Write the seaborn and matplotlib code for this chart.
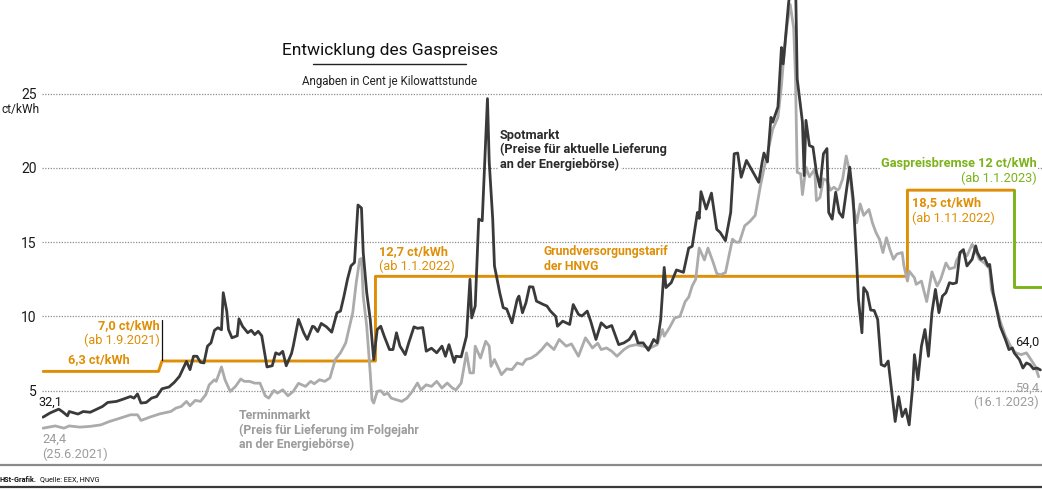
import numpy as np
import pandas as pd
import matplotlib
matplotlib.use("Agg")
import matplotlib.pyplot as plt
from matplotlib.lines import Line2D
import seaborn as sns

# ---------------- data (ct/kWh, x = days since 25.6.2021) ----------------
START = pd.Timestamp("2021-06-25")

spot_days = [0, 4, 9, 11, 14, 15, 20, 23, 27, 30, 34, 37, 42, 46, 50, 52, 54, 56, 59, 62,
             65, 68, 72, 75, 78, 82, 84, 86, 88, 90, 92, 94, 96, 98, 100, 102, 103, 105, 106, 108,
             111, 112, 114, 117, 119, 121, 123, 125, 128, 131, 133, 135, 137, 139, 142, 143, 146, 149, 151, 154,
             155, 157, 159, 162, 165, 168, 170, 172, 174, 176, 178, 180, 182, 183, 185, 187, 189, 191, 193, 195,
             198, 200, 202, 204, 207, 209, 212, 214, 217, 219, 222, 225, 228, 230, 232, 235, 236, 239, 242, 244,
             245, 247, 249, 251, 254, 255, 257, 258, 261, 263, 265, 268, 271, 272, 274, 276, 278, 280, 282, 286,
             288, 290, 293, 294, 297, 301, 303, 306, 308, 311, 313, 316, 319, 322, 325, 329, 332, 335, 338, 340,
             343, 346, 349, 351, 353, 355, 356, 359, 362, 364, 366, 369, 371, 374, 375, 376, 379, 382, 385, 387,
             390, 393, 395, 397, 399, 402, 406, 409, 411, 412, 414, 416, 417, 420, 422, 423, 426, 428, 430, 431,
             434, 435, 436, 438, 440, 442, 444, 446, 448, 449, 451, 453, 455, 457, 461, 463, 465, 466, 468, 469,
             471, 473, 475, 477, 479, 481, 483, 484, 487, 489, 491, 493, 495, 497, 498, 500, 502, 504, 506, 508,
             510, 512, 514, 516, 518, 520, 522, 524, 526, 528, 531, 533, 534, 536, 538, 540, 541, 543, 545, 547,
             550, 552, 554, 555, 558, 560, 562, 564, 566, 568, 570]
spot_vals = [3.22, 3.5, 3.76, 3.6, 3.31, 3.6, 3.43, 3.6, 3.55, 3.72, 3.94, 4.21, 4.28, 4.44, 4.61, 4.5, 4.78, 4.17, 4.21, 4.5,
             4.61, 5.13, 5.25, 5.56, 5.97, 6.98, 6.42, 7.32, 7.32, 6.91, 6.87, 8.0, 8.22, 9.07, 9.24, 9.1, 11.6, 10.36, 9.12, 8.56,
             8.7, 9.84, 9.34, 8.9, 9.07, 8.78, 9.0, 8.7, 6.6, 6.68, 7.55, 7.44, 7.65, 6.68, 7.5, 8.0, 9.8, 8.9, 8.45, 9.34,
             9.3, 8.98, 9.53, 9.3, 8.94, 10.25, 10.36, 11.37, 12.5, 13.4, 13.63, 17.5, 17.3, 14.3, 11.6, 9.8, 7.1, 9.12, 9.34, 8.67,
             7.77, 7.77, 8.9, 8.0, 7.43, 8.22, 9.3, 9.2, 9.25, 7.66, 7.86, 7.55, 8.0, 7.32, 8.1, 6.91, 7.32, 7.28, 8.67, 12.5,
             9.9, 10.7, 16.55, 16.44, 24.66, 20.4, 16.55, 13.4, 11.6, 10.59, 10.5, 9.57, 11.15, 11.37, 10.25, 10.92, 12.0, 11.98, 11.03, 10.8,
             10.7, 10.36, 10.0, 9.34, 9.68, 9.46, 10.8, 10.14, 10.03, 10.36, 9.68, 8.45, 9.57, 9.24, 9.39, 8.1, 8.22, 8.45, 9.0, 8.22,
             8.22, 7.72, 8.45, 8.22, 9.8, 13.3, 11.94, 12.27, 13.13, 13.05, 12.97, 14.6, 14.72, 17.0, 16.6, 18.4, 17.23, 18.3, 15.87, 15.65,
             15.1, 17.0, 20.95, 21.0, 19.37, 20.5, 19.66, 19.03, 20.4, 21.0, 20.4, 23.4, 23.08, 24.1, 28.1, 27.0, 31.0, 33.0, 33.0, 26.0,
             23.08, 19.48, 23.2, 21.5, 21.4, 19.7, 18.7, 20.95, 21.3, 17.0, 16.55, 18.36, 17.0, 16.67, 20.05, 17.9, 13.63, 11.15, 8.9, 11.94,
             11.6, 10.43, 10.4, 9.8, 6.76, 6.65, 7.0, 5.97, 2.93, 4.6, 3.26, 3.76, 2.7, 5.29, 7.43, 5.74, 8.0, 9.12, 7.32, 10.25,
             11.82, 10.25, 11.37, 11.6, 12.27, 12.2, 12.27, 14.3, 14.5, 13.4, 13.85, 14.75, 14.3, 13.85, 13.96, 13.4, 13.5, 11.6, 10.47, 9.34,
             8.45, 7.77, 7.88, 7.55, 7.1, 6.53, 6.87, 6.76, 6.47, 6.53, 6.4]

termin_days = [0, 7, 12, 15, 21, 27, 33, 38, 44, 50, 54, 56, 61, 67, 73, 76, 79, 82, 84, 87,
               90, 93, 95, 98, 99, 102, 104, 107, 110, 113, 115, 118, 121, 124, 127, 129, 132, 134, 137, 140,
               143, 146, 150, 153, 155, 158, 161, 164, 167, 170, 173, 175, 177, 179, 181, 182, 183, 185, 187, 188,
               189, 191, 193, 195, 197, 199, 202, 205, 208, 211, 214, 216, 219, 222, 225, 228, 231, 234, 236, 239,
               242, 244, 246, 247, 250, 253, 255, 256, 258, 262, 265, 268, 271, 274, 276, 279, 282, 285, 288, 292,
               295, 299, 302, 306, 310, 314, 317, 319, 322, 325, 328, 332, 335, 339, 343, 347, 351, 354, 355, 358,
               361, 364, 367, 369, 371, 373, 375, 378, 380, 383, 385, 387, 390, 392, 394, 396, 398, 401, 404, 407,
               410, 412, 415, 417, 420, 422, 423, 425, 427, 429, 430, 431, 433, 434, 436, 438, 441, 442, 444, 446,
               448, 450, 452, 454, 455, 457, 459, 461, 463, 465, 467, 469, 472, 474, 476, 478, 480, 482, 484, 486,
               488, 491, 492, 494, 495, 498, 499, 502, 505, 508, 511, 513, 516, 518, 521, 522, 525, 528, 531, 533,
               535, 538, 541, 542, 544, 547, 550, 552, 554, 556, 559, 562, 564, 567, 569]
termin_vals = [2.48, 2.63, 2.48, 2.63, 2.55, 2.6, 2.7, 2.93, 3.15, 3.38, 3.38, 3.0, 3.22, 3.45, 3.6, 3.83, 3.94, 4.28, 3.99, 4.35,
               4.28, 4.73, 5.4, 5.74, 5.63, 6.6, 5.74, 4.95, 5.29, 5.79, 5.63, 5.63, 5.51, 5.51, 4.66, 4.5, 5.02, 4.84, 5.06, 4.66,
               4.95, 5.5, 5.29, 5.63, 5.47, 5.74, 5.63, 5.86, 7.1, 7.55, 8.22, 9.24, 10.25, 12.27, 13.85, 13.9, 11.37, 9.34, 6.2, 4.39,
               4.17, 4.95, 5.0, 4.73, 4.84, 4.5, 4.39, 4.28, 4.5, 4.95, 5.52, 5.06, 5.4, 5.29, 5.63, 5.18, 5.52, 5.18, 5.06, 5.52,
               7.55, 6.2, 6.2, 8.0, 7.2, 8.33, 8.0, 6.64, 7.1, 6.08, 6.47, 6.42, 6.87, 6.76, 7.1, 7.2, 7.43, 7.77, 8.2, 7.77,
               8.45, 8.0, 8.15, 7.32, 8.56, 7.88, 8.2, 7.77, 7.88, 7.66, 7.32, 7.77, 8.0, 8.1, 8.0, 7.88, 8.1, 9.12, 8.67, 9.24,
               9.9, 10.0, 11.0, 11.3, 12.05, 12.5, 14.6, 13.8, 14.6, 13.63, 12.9, 12.8, 12.95, 14.06, 15.2, 15.0, 15.0, 16.1, 16.4, 16.8,
               18.8, 19.93, 21.5, 22.6, 23.4, 25.54, 27.0, 29.4, 31.0, 29.4, 26.2, 19.7, 19.6, 18.2, 20.05, 19.4, 19.9, 17.8, 18.0, 19.26,
               19.15, 18.5, 18.7, 18.5, 18.6, 19.26, 20.8, 19.7, 17.45, 16.3, 17.57, 16.8, 17.2, 16.3, 15.65, 15.2, 14.3, 15.3, 14.5, 13.85,
               14.2, 14.3, 13.4, 12.38, 13.05, 12.6, 12.16, 12.38, 11.0, 13.0, 12.05, 12.5, 13.6, 13.2, 13.3, 13.75, 14.4, 14.08, 14.86, 14.4,
               13.85, 13.6, 13.2, 11.8, 11.03, 9.68, 8.67, 8.22, 7.77, 7.55, 7.43, 7.55, 7.2, 6.65, 5.94]

tarif_days = [0, 66, 68, 190, 190, 494, 494, 555]
tarif_vals = [6.3, 6.3, 7.0, 7.0, 12.7, 12.7, 18.5, 18.5]
bremse_days = [555, 555, 575]
bremse_vals = [18.5, 12.0, 12.0]

y_ticks = [5, 10, 15, 20, 25]
y_tick_labels = ["5", "10", "15", "20", "25"]

# ---------------- style ----------------
sns.set_style("white")
plt.rcParams["font.family"] = ["Roboto", "DejaVu Sans"]

SPOT = "#3a3a3a"
TERMIN = "#ababab"
TERMIN_TXT = "#9c9c9c"
ORANGE = "#df8f06"
GREEN = "#7cb31b"

W, H = 1042, 490


def fx(x):
    return x / W


def fy(y):
    return 1 - y / H


def to_dates(days):
    return START + pd.to_timedelta(np.asarray(days, dtype=float), unit="D")


fig = plt.figure(figsize=(W / 100, H / 100), dpi=100)
ax = fig.add_axes([42 / W, 25 / H, 1000 / W, 465 / H])

sns.lineplot(x=to_dates(tarif_days), y=tarif_vals, estimator=None, sort=False,
             color=ORANGE, linewidth=2.1, ax=ax, zorder=3)
sns.lineplot(x=to_dates(bremse_days), y=bremse_vals, estimator=None, sort=False,
             color=GREEN, linewidth=2.1, ax=ax, zorder=3)
sns.lineplot(x=to_dates(termin_days), y=termin_vals, estimator=None, sort=False,
             color=TERMIN, linewidth=2.0, ax=ax, zorder=4)
sns.lineplot(x=to_dates(spot_days), y=spot_vals, estimator=None, sort=False,
             color=SPOT, linewidth=2.0, ax=ax, zorder=5)

ax.set_xlim(START - pd.Timedelta(days=0.57), START + pd.Timedelta(days=570.9))
ax.set_ylim(0, 31.3)
ax.set_yticks(y_ticks)
ax.set_yticklabels(y_tick_labels)
ax.set_xticks([])
ax.set_xlabel("")
ax.set_ylabel("")
ax.tick_params(axis="y", length=0, pad=4, labelsize=10, colors="#1a1a1a")
for s in ax.spines.values():
    s.set_visible(False)
ax.grid(axis="y", color="#8c8c8c", linestyle=(0, (1, 1.2)), linewidth=0.9)
ax.grid(axis="x", visible=False)
ax.set_axisbelow(True)
ax.patch.set_alpha(0)

# lines in figure space
fig.add_artist(Line2D([0, 1], [fy(465), fy(465)], color="#8a8a8a", lw=1.6))
fig.add_artist(Line2D([0, 1], [fy(486.5), fy(486.5)], color="#3a3a3a", lw=1.6))
fig.add_artist(Line2D([fx(313), fx(466)], [fy(64), fy(64)], color="#222222", lw=1.0))
fig.add_artist(Line2D([fx(162), fx(162)], [fy(320), fy(360)], color="#111111", lw=0.9))


def txt(x, y, s, color, weight="normal", ha="left", size=9.2, bg=False):
    kw = {}
    if bg:
        kw["bbox"] = dict(facecolor="white", edgecolor="none", pad=1.0)
    return fig.text(fx(x), fy(y), s, color=color, fontweight=weight, ha=ha, va="center",
                    fontsize=size, zorder=10, **kw)


# titles
txt(390, 50, "Entwicklung des Gaspreises", "#111111", ha="center", size=12.5)
txt(390, 82, "Angaben in Cent je Kilowattstunde", "#222222", ha="center", size=8.3)
txt(1, 110, "ct/kWh", "#1a1a1a", ha="left", size=8.6)

# annotations
txt(68, 360, "6,3 ct/kWh", ORANGE, weight="bold")
txt(160, 326, "7,0 ct/kWh", ORANGE, weight="bold", ha="right")
txt(160, 340, "(ab 1.9.2021)", ORANGE, ha="right")
txt(379, 252, "12,7 ct/kWh", ORANGE, weight="bold")
txt(379, 266, "(ab 1.1.2022)", ORANGE)
txt(544, 252, "Grundversorgungstarif", ORANGE, weight="bold", size=8.8)
txt(544, 267, "der HNVG", ORANGE, weight="bold", size=8.8)
txt(912, 203, "18,5 ct/kWh", ORANGE, weight="bold")
txt(912, 218, "(ab 1.11.2022)", ORANGE)
txt(1037, 163, "Gaspreisbremse 12 ct/kWh", GREEN, weight="bold", ha="right", bg=True)
txt(1037, 178, "(ab 1.1.2023)", GREEN, ha="right")

txt(500, 135, "Spotmarkt", "#2b2b2b", weight="bold", bg=True)
txt(500, 149.5, "(Preise für aktuelle Lieferung", "#2b2b2b", weight="bold", bg=True)
txt(500, 164, "an der Energiebörse)", "#2b2b2b", weight="bold", bg=True)

txt(239, 415, "Terminmarkt", TERMIN_TXT, weight="bold", size=8.9)
txt(239, 430, "(Preis für Lieferung im Folgejahr", TERMIN_TXT, weight="bold", size=8.9)
txt(239, 444.5, "an der Energiebörse)", TERMIN_TXT, weight="bold", size=8.9)

txt(38, 402, "32,1", "#1a1a1a")
txt(42, 439, "24,4", TERMIN_TXT)
txt(42, 454, "(25.6.2021)", TERMIN_TXT)
txt(1039, 342, "64,0", "#1a1a1a", ha="right")
txt(1039, 388, "59,4", TERMIN_TXT, ha="right")
txt(1039, 402, "(16.1.2023)", TERMIN_TXT, ha="right")

# footer
f1 = txt(0, 480, "HSt-Grafik.", "#111111", weight="bold", size=5.2)
fig.add_artist(matplotlib.text.Annotation(
    "Quelle: EEX, HNVG", xy=(1, 0.5), xycoords=f1, xytext=(2, 0),
    textcoords="offset points", va="center", ha="left", fontsize=5.2,
    color="#111111", annotation_clip=False))

fig.savefig("out.png", dpi=100, facecolor="white")
